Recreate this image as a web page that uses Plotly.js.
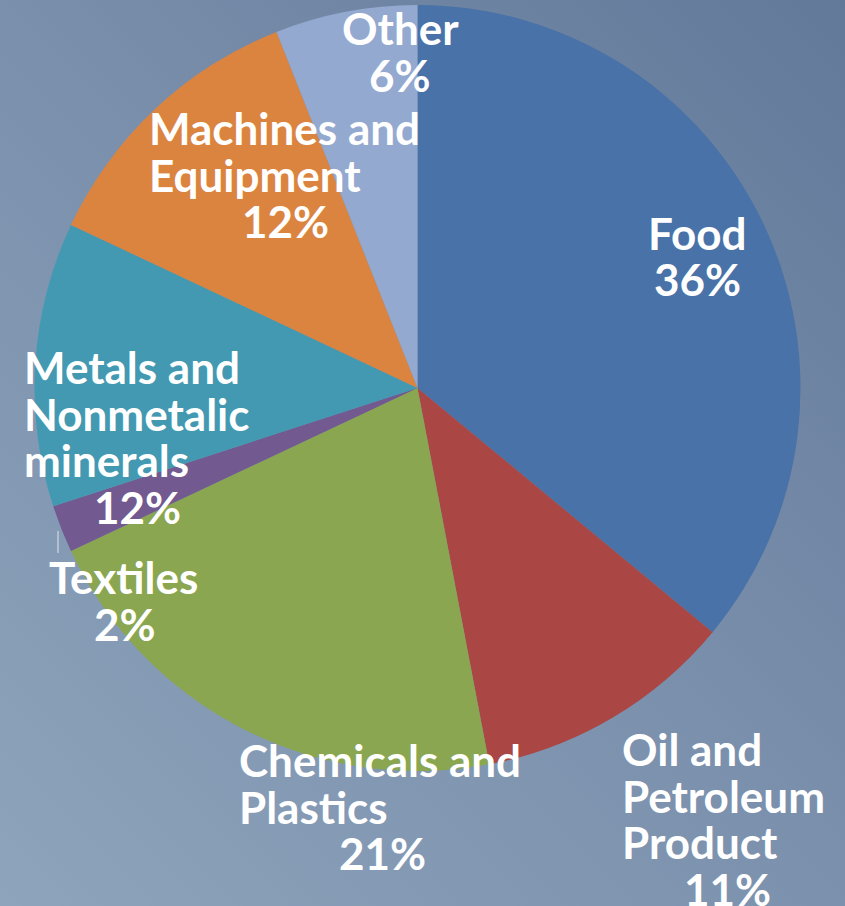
<!DOCTYPE html>
<html>
<head>
<meta charset="utf-8">
<script src="https://cdn.plot.ly/plotly-3.0.1.min.js"></script>
<style>
  html, body { margin: 0; padding: 0; }
  body { width: 845px; height: 906px; overflow: hidden;
         background: linear-gradient(45deg, #8ea4bc 0%, #7a90ac 50%, #63799a 100%); }
  #chart { width: 845px; height: 906px; }
</style>
</head>
<body>
<div id="chart"></div>
<script>
// ---- data ----
const categories = ["Food", "Oil and Petroleum Product", "Chemicals and Plastics", "Textiles",
                    "Metals and Nonmetalic minerals", "Machines and Equipment", "Other"];
const shares = [36, 11, 21, 2, 12, 12, 6];
const sliceColors = ["#4872a8", "#aa4744", "#8aa650", "#72598f", "#4299b1", "#db843f", "#94a9cf"];
// how each category name breaks into lines on the chart
const labelLines = [
  ["Food"],
  ["Oil and", "Petroleum", "Product"],
  ["Chemicals and", "Plastics"],
  ["Textiles"],
  ["Metals and", "Nonmetalic", "minerals"],
  ["Machines and", "Equipment"],
  ["Other"]
];

// ---- label placement (pixels) ----
const W = 845, H = 906;
const labelPos = [
  {x: 697, align: "center", y0: 233, px: 697},
  {x: 620, align: "left",   y0: 749, px: 727},
  {x: 237, align: "left",   y0: 760, px: 382},
  {x: 123, align: "center", y0: 577, px: 125},
  {x: 22,  align: "left",   y0: 367, px: 137},
  {x: 147, align: "left",   y0: 128, px: 285},
  {x: 400, align: "center", y0: 28,  px: 400}
];
const lineStep = 46.5;
const yShift = 0;
const fontSpec = {family: "Lato, 'Open Sans', sans-serif", size: 44, color: "#ffffff", weight: 700};

const px2x = v => v / W;
const px2y = v => 1 - v / H;

const total = shares.reduce((a, b) => a + b, 0);
const annotations = [];
categories.forEach((c, i) => {
  const p = labelPos[i];
  const lines = labelLines[i];
  lines.forEach((ln, k) => {
    annotations.push({
      text: ln, showarrow: false, xref: "paper", yref: "paper",
      x: px2x(p.x), y: px2y(p.y0 + k * lineStep + yShift),
      xanchor: p.align === "left" ? "left" : "center", yanchor: "middle",
      font: fontSpec
    });
  });
  annotations.push({
    text: Math.round(shares[i] / total * 100) + "%", showarrow: false,
    xref: "paper", yref: "paper",
    x: px2x(p.px), y: px2y(p.y0 + lines.length * lineStep + yShift),
    xanchor: "center", yanchor: "middle", font: fontSpec
  });
});

// pie geometry: centre (417.5, 388), radius 383 px
const cx = 417.5, cy = 388, r = 383;

const trace = {
  type: "pie",
  labels: categories,
  values: shares,
  sort: false,
  direction: "clockwise",
  rotation: 0,
  textinfo: "none",
  hoverinfo: "label+percent",
  marker: {colors: sliceColors, line: {width: 0}},
  domain: {x: [px2x(cx - r), px2x(cx + r)], y: [px2y(cy + r), px2y(cy - r)]},
  showlegend: false
};

const layout = {
  width: W, height: H,
  margin: {l: 0, r: 0, t: 0, b: 0},
  paper_bgcolor: "rgba(0,0,0,0)",
  plot_bgcolor: "rgba(0,0,0,0)",
  showlegend: false,
  annotations: annotations,
  shapes: [{
    type: "line", xref: "paper", yref: "paper",
    x0: px2x(58), x1: px2x(58), y0: px2y(531), y1: px2y(553),
    line: {color: "#dfe6ee", width: 1}
  }]
};

Plotly.newPlot("chart", [trace], layout, {displayModeBar: false, staticPlot: true});
</script>
</body>
</html>
